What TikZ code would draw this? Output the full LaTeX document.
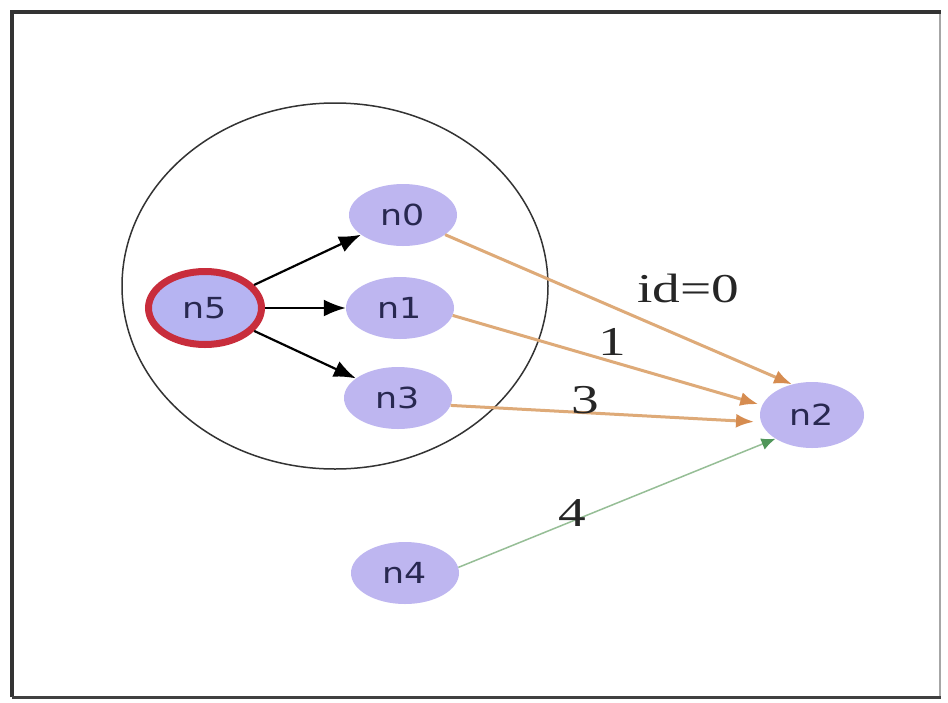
\documentclass[tikz,border=0pt]{standalone}
\usepackage{fontspec}
\usepackage{graphicx}
\setmainfont{Liberation Serif}
\newfontfamily\nodefont{DejaVu Sans}
\usetikzlibrary{shapes.geometric,arrows.meta}
\newcommand{\widen}[1]{\scalebox{1.2}[1]{#1}}
\newcommand{\widelab}[1]{\scalebox{1.35}[1]{#1}}
\definecolor{nodefill}{RGB}{190,182,240}
\definecolor{nfive}{RGB}{182,180,242}
\definecolor{nodetext}{RGB}{40,40,80}
\definecolor{ringred}{RGB}{200,45,60}
\definecolor{tan}{RGB}{222,170,120}
\definecolor{tantip}{RGB}{214,140,80}
\definecolor{greenline}{RGB}{150,190,150}
\definecolor{greentip}{RGB}{80,150,90}
\tikzset{
  gnode/.style={ellipse, fill=nodefill, minimum width=108pt, minimum height=62pt, inner sep=0pt,
    text=nodetext, font=\nodefont\fontsize{29}{29}\selectfont},
  blackedge/.style={draw=black, line width=2.2pt, -{Latex[length=22pt,width=17pt]}},
  tanedge/.style={draw=tan, line width=3pt, -{Latex[length=18pt,width=14pt,color=tantip]}},
  greenedge/.style={draw=greenline, line width=1.5pt, -{Latex[length=14pt,width=12pt,color=greentip]}},
  elabel/.style={font=\fontsize{41}{41}\selectfont, text=black!85}
}
\begin{document}
\begin{tikzpicture}[x=1pt,y=-1pt]
\useasboundingbox (0,0) rectangle (948,702);
\fill[white] (0,0) rectangle (948,702);
% frame
\draw[black!35, line width=1.5pt] (940,12) -- (940,697);
\draw[black!80, line width=3.5pt] (12,697) -- (12,12) -- (941,12);
\draw[black!75, line width=3pt] (12,697) -- (941,697);
% cluster
\node (cluster) [ellipse, draw=black!80, line width=1.5pt, minimum width=426pt, minimum height=366pt] at (335,286) {};
% nodes
\node (n5) [gnode, fill=nfive, draw=ringred, line width=7pt, minimum width=113pt, minimum height=73pt] at (205,308) {\widen{n5}};
\node (n0) [gnode] at (403,215) {\widen{n0}};
\node (n1) [gnode] at (400,308) {\widen{n1}};
\node (n3) [gnode] at (398,398) {\widen{n3}};
\node (n2) [gnode, minimum width=104pt, minimum height=66pt] at (812,415) {\widen{n2}};
\node (n4) [gnode] at (405,573) {\widen{n4}};
% edges
\draw[blackedge] (n5) -- (n0);
\draw[blackedge] (n5) -- (n1);
\draw[blackedge] (n5) -- (n3);
\draw[tanedge] (n0.-25) -- (n2.123);
\draw[tanedge, shorten >=4pt] (n1.-8) -- (n2.169);
\draw[tanedge, shorten >=7pt] (n3.-8) -- (n2.188);
\draw[greenedge] (n4.6) -- (n2.213);
% labels
\node (l0) [elabel] at (688,288) {\widelab{id=0}};
\node (l1) [elabel] at (612,342) {\widelab{1}};
\node (l3) [elabel] at (585,400) {\widelab{3}};
\node (l4) [elabel] at (572,513) {\widelab{4}};
\end{tikzpicture}
\end{document}
